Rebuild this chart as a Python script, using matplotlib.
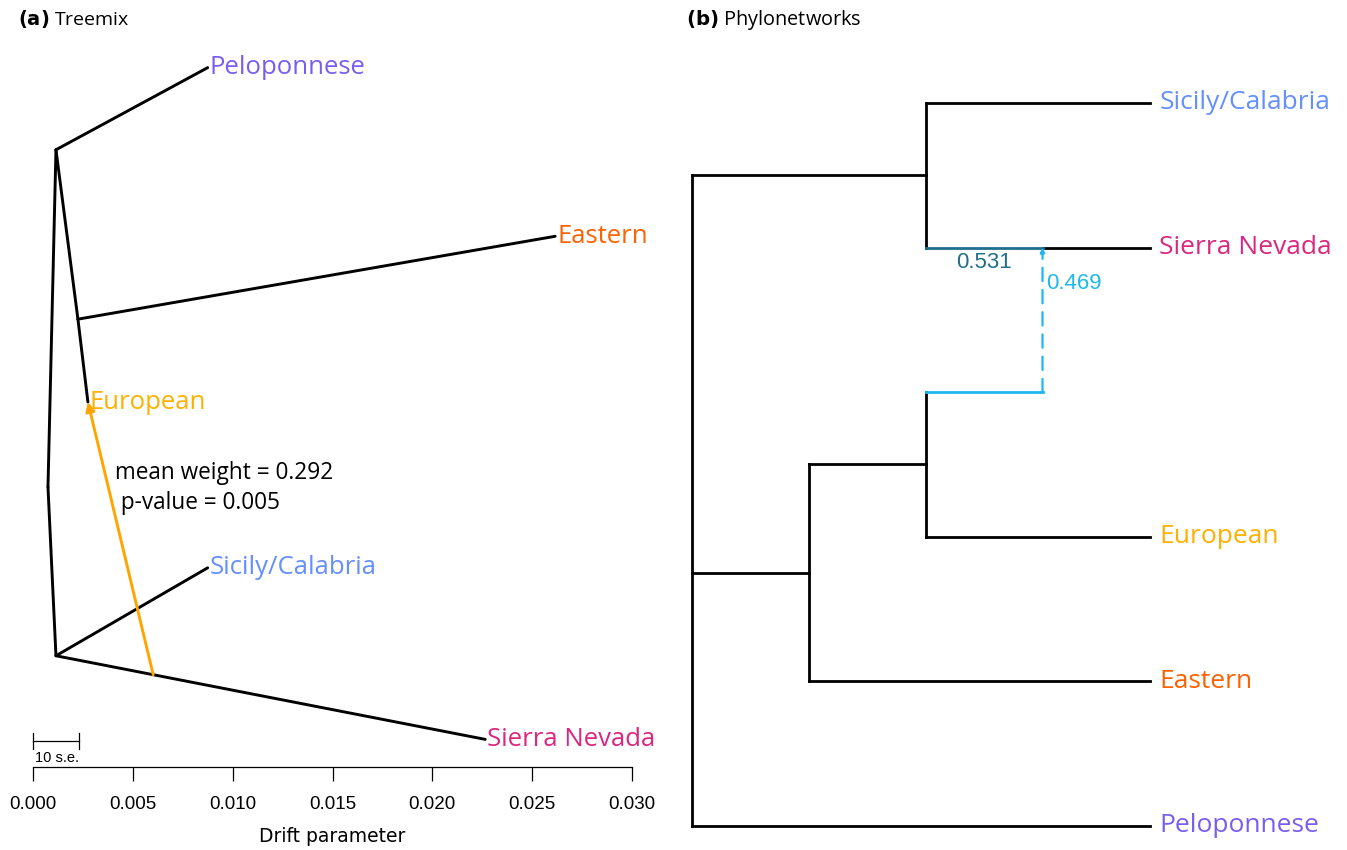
import matplotlib
matplotlib.use("Agg")
import matplotlib.pyplot as plt

# ---- data: (a) Treemix ----
# node drift (x) and vertical position (y, 0..1)
tm_nodes = ["root", "A", "B", "C", "Peloponnese", "Eastern", "European",
            "Sicily/Calabria", "Sierra Nevada"]
tm_x = [0.00075, 0.00115, 0.00225, 0.00115, 0.00875, 0.02615, 0.00275,
        0.00875, 0.02265]
tm_y = [0.385, 0.849, 0.616, 0.153, 0.962, 0.730, 0.502, 0.274, 0.038]
tm_edges = [("root", "A"), ("root", "C"), ("A", "Peloponnese"), ("A", "B"),
            ("B", "Eastern"), ("B", "European"), ("C", "Sicily/Calabria"),
            ("C", "Sierra Nevada")]
# migration edge: source point on the Sierra Nevada branch -> European
mig_src = (0.00602, 0.127)
mig_dst = "European"
mig_weight = 0.292
mig_pvalue = 0.005
drift_ticks = [0.000, 0.005, 0.010, 0.015, 0.020, 0.025, 0.030]
scale_se = 0.0023  # 10 s.e.

colors = {"Peloponnese": "#785EF0", "Eastern": "#FE6100", "European": "#FFB000",
          "Sicily/Calabria": "#648FFF", "Sierra Nevada": "#DC267F"}

# ---- data: (b) Phylonetworks ----
pn_nodes = ["root", "n1", "n2", "n3", "hyb", "Sicily/Calabria", "Sierra Nevada",
            "European", "Eastern", "Peloponnese"]
pn_x = [0, 2, 1, 2, 3, 3.92, 3.92, 3.92, 3.92, 3.92]
pn_y = [3.75, 1.5, 4.25, 3.5, 2, 1, 2, 4, 5, 6]
pn_children = {"root": ["n1", "n2", "Peloponnese"],
               "n1": ["Sicily/Calabria"],
               "n2": ["n3", "Eastern"],
               "n3": ["European"],
               "hyb": ["Sierra Nevada"]}
major_gamma = 0.531
minor_gamma = 0.469
minor_row = 3  # row where the minor hybrid edge leaves n3

NARROW = ["Liberation Sans", "DejaVu Sans"]
plt.rcParams["font.family"] = ["Open Sans", "DejaVu Sans"]
fig = plt.figure(figsize=(13.47, 8.5), dpi=100)
W, H = 1347, 850

# ================= (a) =================
ax = fig.add_axes([33 / W, (850 - 767) / H, 599 / W, 727 / H])
px = dict(zip(tm_nodes, tm_x))
py = dict(zip(tm_nodes, tm_y))
for a, b in tm_edges:
    ax.plot([px[a], px[b]], [py[a], py[b]], color="black", lw=2.1,
            solid_capstyle="round", clip_on=False)
for name in colors:
    ax.text(px[name] + 0.0001, py[name], name, color=colors[name],
            fontsize=18.5, va="center", ha="left")
ax.annotate("", xy=(px[mig_dst], py[mig_dst]), xytext=mig_src,
            arrowprops=dict(arrowstyle="-|>", color="#FFA500", lw=2.1,
                            mutation_scale=13, shrinkA=0, shrinkB=0))
ax.text(0.0041, 0.384, f"mean weight = {mig_weight:.3f}\n p-value = {mig_pvalue:.3f}",
        fontsize=16.3, va="center", ha="left", linespacing=1.3)

# scale bar
ax.plot([0, scale_se], [0.036, 0.036], color="black", lw=0.9, clip_on=False)
for xe in (0, scale_se):
    ax.plot([xe, xe], [0.025, 0.047], color="black", lw=0.9, clip_on=False)
ax.text(0.0001, 0.022, "10 s.e.", fontsize=10.5, va="top", ha="left",
        family=NARROW)

ax.set_xlim(0, 0.030)
ax.set_ylim(0, 1)
ax.set_xticks(drift_ticks)
ax.set_xticklabels([f"{t:.3f}" for t in drift_ticks], family=NARROW,
                   fontsize=13.5)
ax.tick_params(axis="x", direction="out", length=10, width=0.9, pad=11)
ax.set_yticks([])
for s in ("top", "left", "right"):
    ax.spines[s].set_visible(False)
ax.spines["bottom"].set_linewidth(0.9)
ax.set_xlabel("Drift parameter", fontsize=13.5, labelpad=10,
              family=["DejaVu Sans"])

fig.text(18 / W, 1 - 19 / H, r"$\bf{(a)}$ Treemix", fontsize=14, va="center")

# ================= (b) =================
bx = fig.add_axes([692 / W, (850 - 826) / H, 458 / W, 723 / H])
nx = dict(zip(pn_nodes, pn_x))
ny = dict(zip(pn_nodes, pn_y))
lw = 2.0
kw = dict(lw=lw, clip_on=False, solid_capstyle="projecting")
for parent, kids in pn_children.items():
    ys = [ny[k] for k in kids] + [ny[parent]]
    if parent == "n1":
        ys.append(ny["hyb"])
    if parent == "n3":
        ys.append(minor_row)
    bx.plot([nx[parent], nx[parent]], [min(ys), max(ys)], color="black", **kw)
    for k in kids:
        bx.plot([nx[parent], nx[k]], [ny[k], ny[k]], color="black", **kw)
# major hybrid edge n1 -> hyb
bx.plot([nx["n1"], nx["hyb"]], [ny["hyb"], ny["hyb"]], color="#1F6E8C", lw=lw,
        clip_on=False)
# minor hybrid edge n3 -> hyb
bx.plot([nx["n3"], nx["hyb"]], [minor_row, minor_row], color="#1EB8F0", lw=lw,
        clip_on=False)
bx.annotate("", xy=(nx["hyb"], ny["hyb"]), xytext=(nx["hyb"], minor_row),
            arrowprops=dict(arrowstyle="-|>", color="#1EB8F0", lw=1.6,
                            linestyle=(0, (6, 4)), mutation_scale=6,
                            shrinkA=0, shrinkB=0))
bx.text(2.5, ny["hyb"] + 0.1, f"{major_gamma:.3f}", color="#1F6E8C", fontsize=16,
        ha="center", va="center", family=NARROW)
bx.text(nx["hyb"] + 0.03, ny["hyb"] + 0.25, f"{minor_gamma:.3f}", color="#1EB8F0",
        fontsize=16, ha="left", va="center", family=NARROW)
for name in colors:
    bx.text(nx[name] + 0.08, ny[name], name, color=colors[name], fontsize=19,
            ha="left", va="center")
bx.set_xlim(0, 3.92)
bx.set_ylim(6, 1)
bx.axis("off")

fig.text(686 / W, 1 - 20 / H, r"$\bf{(b)}$ Phylonetworks", fontsize=14.3,
         va="center")

fig.savefig("out.png", dpi=100, facecolor="white")
